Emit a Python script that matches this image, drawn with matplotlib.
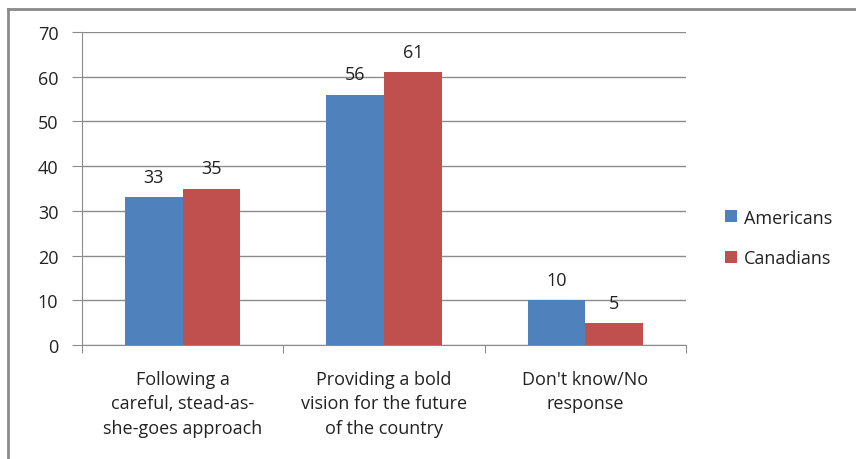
import matplotlib.pyplot as plt
from matplotlib.lines import Line2D
import numpy as np

categories = ["Following a\ncareful, stead-as-\nshe-goes approach",
              "Providing a bold\nvision for the future\nof the country",
              "Don't know/No\nresponse"]
americans = [33, 56, 10]
canadians = [35, 61, 5]
series_names = ["Americans", "Canadians"]
colors = ["#4F81BD", "#C0504D"]

plt.rcParams['font.family'] = ['Open Sans', 'DejaVu Sans']
text_color = "#222222"
grid_color = "#8C8C8C"
fsize = 13

fig = plt.figure(figsize=(8.56, 4.6), dpi=100)
ax = fig.add_axes([82 / 856, 1 - 346 / 460, (686 - 82) / 856, (346 - 33) / 460])

x = np.arange(len(categories))
width = 1 / 3.5  # excel style 150% gap width

for i, (vals, name, col) in enumerate(zip([americans, canadians], series_names, colors)):
    pos = x + (i - 0.5) * width
    ax.bar(pos, vals, width, color=col, label=name, zorder=3)
    for px, v in zip(pos, vals):
        ax.annotate(str(v), xy=(px, v), xytext=(0, 8), textcoords='offset points',
                    ha='center', va='bottom', fontsize=fsize, color=text_color, zorder=4)

ax.set_xlim(-0.5, 2.5)
ax.set_ylim(0, 70)
ax.set_yticks(range(0, 71, 10))
ax.yaxis.grid(True, color=grid_color, linewidth=1)
ax.set_axisbelow(True)

# category boundary ticks instead of centred ones
ax.set_xticks([-0.5, 0.5, 1.5, 2.5])
ax.set_xticklabels([])
ax.set_xticks(x, minor=True)
ax.set_xticklabels(categories, minor=True, fontsize=fsize, color=text_color, linespacing=1.45)
ax.tick_params(axis='x', which='minor', length=0, pad=18)
ax.tick_params(axis='x', which='major', length=6, color=grid_color, direction='out')
ax.tick_params(axis='y', length=7, color=grid_color, pad=10, labelsize=fsize, labelcolor=text_color)

for side in ['top', 'right']:
    ax.spines[side].set_visible(False)
for side in ['left', 'bottom']:
    ax.spines[side].set_color(grid_color)

ax.legend(loc='center left', bbox_to_anchor=(725 / 856, 1 - 239 / 460), bbox_transform=fig.transFigure,
          frameon=False, fontsize=fsize, handlelength=0.65, handleheight=0.65, handletextpad=0.4,
          labelspacing=1.25, labelcolor=text_color, borderaxespad=0, borderpad=0)

# chart area border (left and top edges only)
border = dict(color="#8A8A8A", linewidth=2, transform=fig.transFigure)
fig.add_artist(Line2D([8 / 856, 8 / 856], [0, 1 - 10 / 460], **border))
fig.add_artist(Line2D([8 / 856, 1], [1 - 10 / 460, 1 - 10 / 460], **border))

fig.savefig("out.png", dpi=100)
